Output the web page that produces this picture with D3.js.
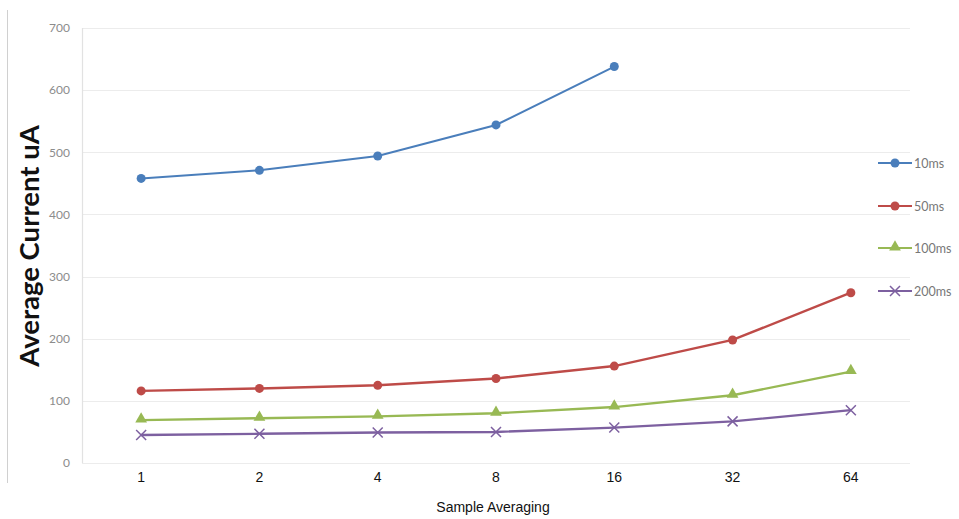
<!DOCTYPE html>
<html>
<head>
<meta charset="utf-8">
<script src="https://cdn.jsdelivr.net/npm/d3@7"></script>
<style>
    body { margin: 0; background: #fff; }
    svg { display: block; }
</style>
</head>
<body>
<div id="chart"></div>
<script>
// Data
const categories = ["1", "2", "4", "8", "16", "32", "64"];
const seriesNames = ["10ms", "50ms", "100ms", "200ms"];
const values10ms = [458, 471, 494, 544, 638];
const values50ms = [116, 120, 125, 136, 156, 198, 274];
const values100ms = [69, 72, 75, 80, 90, 109, 147];
const values200ms = [45, 47, 49, 50, 57, 67, 85];
const yTicks = [0, 100, 200, 300, 400, 500, 600, 700];

const series = [
    { name: seriesNames[0], values: values10ms, color: "#4a7ebb", marker: "circle" },
    { name: seriesNames[1], values: values50ms, color: "#be4b48", marker: "circle" },
    { name: seriesNames[2], values: values100ms, color: "#98b954", marker: "triangle" },
    { name: seriesNames[3], values: values200ms, color: "#7d60a0", marker: "cross" }
];

const width = 959, height = 519;
const margin = { top: 28, right: 49, bottom: 56, left: 82 };
const innerWidth = width - margin.left - margin.right;
const innerHeight = height - margin.top - margin.bottom;

const svg = d3.select("#chart").append("svg")
    .attr("width", width)
    .attr("height", height);

// outer left frame line
svg.append("line")
    .attr("x1", 7.5).attr("x2", 7.5)
    .attr("y1", 10).attr("y2", 483)
    .attr("stroke", "#d0d0d0")
    .attr("stroke-width", 1);

const g = svg.append("g")
    .attr("transform", `translate(${margin.left},${margin.top})`);

const x = d3.scaleBand()
    .domain(categories)
    .range([0, innerWidth]);

const y = d3.scaleLinear()
    .domain([0, 700])
    .range([innerHeight, 0]);

// horizontal grid lines
g.append("g")
    .selectAll("line")
    .data(yTicks)
    .enter()
    .append("line")
    .attr("x1", 0)
    .attr("x2", innerWidth)
    .attr("y1", d => Math.round(y(d)) + 0.5)
    .attr("y2", d => Math.round(y(d)) + 0.5)
    .attr("stroke", "#ececec")
    .attr("stroke-width", 1.2);

// left plot border
g.append("line")
    .attr("x1", 0.5).attr("x2", 0.5)
    .attr("y1", 0).attr("y2", innerHeight)
    .attr("stroke", "#e2e2e2")
    .attr("stroke-width", 1.2);

// y axis labels
const yAxis = d3.axisLeft(y)
    .tickValues(yTicks)
    .tickSize(0)
    .tickPadding(12);

g.append("g")
    .attr("class", "y-axis")
    .call(yAxis)
    .call(s => s.select(".domain").remove())
    .selectAll("text")
    .style("font-family", "Lato, 'Open Sans', sans-serif")
    .style("font-size", "12px")
    .style("fill", "#8c8c8c");

// x axis labels
const xAxis = d3.axisBottom(x)
    .tickSize(0)
    .tickPadding(9);

g.append("g")
    .attr("class", "x-axis")
    .attr("transform", `translate(0,${innerHeight})`)
    .call(xAxis)
    .call(s => s.select(".domain").remove())
    .selectAll("text")
    .style("font-family", "Arial, 'Liberation Sans', sans-serif")
    .style("font-size", "14px")
    .style("fill", "#111");

// axis titles
svg.append("text")
    .attr("x", margin.left + innerWidth / 2 - 3)
    .attr("y", 512)
    .attr("text-anchor", "middle")
    .style("font-family", "Arial, 'Liberation Sans', sans-serif")
    .style("font-size", "14px")
    .style("fill", "#111")
    .text("Sample Averaging");

svg.append("text")
    .attr("transform", "translate(39,246) rotate(-90)")
    .attr("text-anchor", "middle")
    .style("font-family", "Lato, 'Open Sans', sans-serif")
    .style("font-weight", "bold")
    .style("font-size", "27.5px")
    .style("fill", "#111")
    .text("Average Current uA");

const cx = (d, i) => x(categories[i]) + x.bandwidth() / 2;

const line = d3.line()
    .x((d, i) => cx(d, i))
    .y(d => y(d));

function drawMarker(sel, type, color) {
    if (type === "circle") {
        sel.append("circle")
            .attr("r", 4.5)
            .attr("fill", color);
    } else if (type === "triangle") {
        sel.append("path")
            .attr("d", d3.symbol().type(d3.symbolTriangle).size(60)())
            .attr("transform", "translate(0,-1)")
            .attr("fill", color);
    } else {
        sel.append("path")
            .attr("d", "M-5,-5L5,5M-5,5L5,-5")
            .attr("stroke", color)
            .attr("stroke-width", 1.5)
            .attr("fill", "none");
    }
}

series.forEach(s => {
    g.append("path")
        .datum(s.values)
        .attr("d", line)
        .attr("fill", "none")
        .attr("stroke", s.color)
        .attr("stroke-width", s.name === "10ms" ? 2 : 2.4);

    g.append("g")
        .selectAll("g")
        .data(s.values)
        .enter()
        .append("g")
        .attr("transform", (d, i) => `translate(${cx(d, i)},${y(d)})`)
        .each(function () { drawMarker(d3.select(this), s.marker, s.color); });
});

// legend
const legendY = [163, 206, 248, 291];
const legend = svg.append("g");
series.forEach((s, i) => {
    const row = legend.append("g")
        .attr("transform", `translate(878,${legendY[i]})`);
    row.append("line")
        .attr("x1", 0).attr("x2", 34)
        .attr("stroke", s.color)
        .attr("stroke-width", 2.2);
    const m = row.append("g").attr("transform", "translate(17,0)");
    drawMarker(m, s.marker, s.color);
    row.append("text")
        .attr("x", 36)
        .attr("y", 4.5)
        .style("font-family", "Lato, 'Open Sans', sans-serif")
        .style("font-size", "12.5px")
        .style("fill", "#777")
        .text(s.name);
});
</script>
</body>
</html>
